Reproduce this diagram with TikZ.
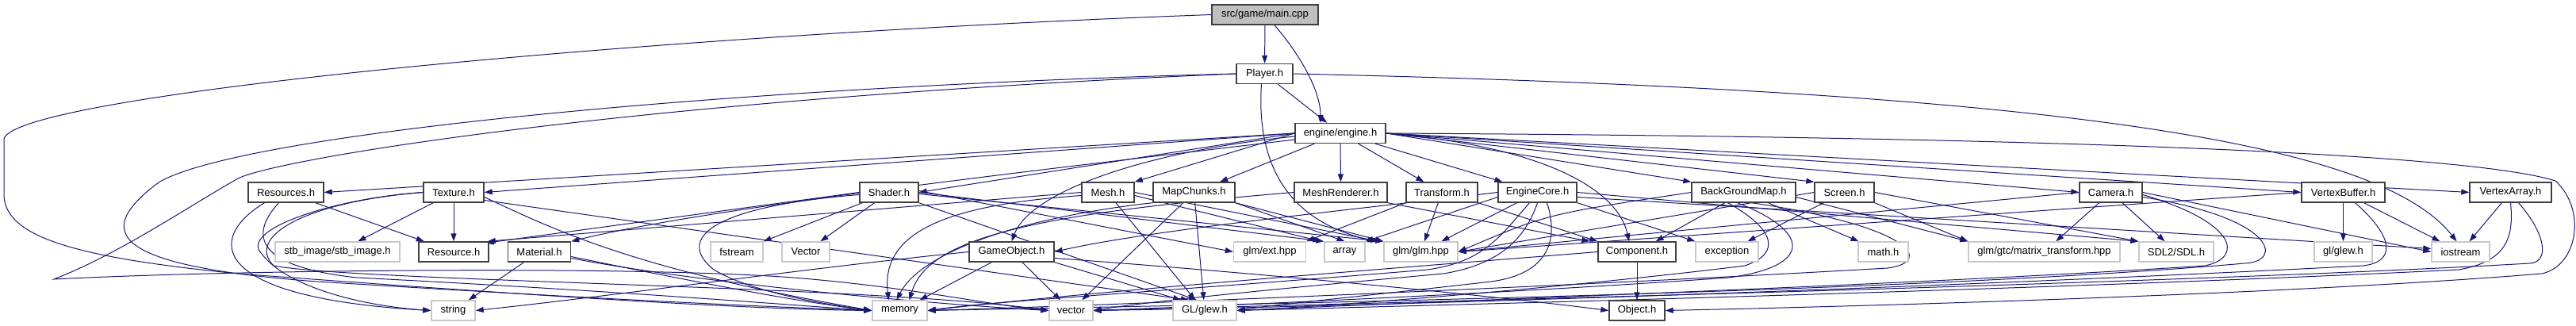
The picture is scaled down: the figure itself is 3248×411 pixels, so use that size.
\documentclass[tikz,border=0pt]{standalone}
\usepackage{fontspec}
\setmainfont{Liberation Sans}
\usetikzlibrary{arrows.meta}
\definecolor{edgec}{HTML}{191970}
\definecolor{hdrb}{HTML}{404040}
\definecolor{sysb}{HTML}{C8C8C8}
\definecolor{mainf}{HTML}{BFBFBF}
\pgfdeclarelayer{bg}
\pgfsetlayers{bg,main}
\newcommand{\dfont}{\fontsize{13}{15}\selectfont}
\tikzset{
  hdr/.style={draw=hdrb, line width=1.4pt, fill=white, minimum height=25pt, inner sep=0pt, font=\dfont},
  sys/.style={draw=sysb, line width=1.4pt, fill=white, minimum height=25pt, inner sep=0pt, font=\dfont},
  e/.style={draw=edgec, line width=1pt, -{Triangle[length=10pt,width=7pt,fill=edgec]}},
}
\begin{document}
\begin{tikzpicture}[x=1pt,y=-1pt]
\useasboundingbox (0,0) rectangle (3248,411);
% row 0-2
\node[hdr, fill=mainf, minimum width=134pt] (maincpp) at (1595,18.5) {src/game/main.cpp};
\node[hdr, minimum width=71pt] (player) at (1594.5,93) {Player.h};
\node[hdr, minimum width=114pt] (engine) at (1690,168) {engine/engine.h};
% row 3
\node[hdr, minimum width=95pt] (resources) at (360.5,242.5) {Resources.h};
\node[hdr, minimum width=76pt] (texture) at (572,242.5) {Texture.h};
\node[hdr, minimum width=74pt] (shader) at (1121,242.5) {Shader.h};
\node[hdr, minimum width=66pt] (mesh) at (1397,242.5) {Mesh.h};
\node[hdr, minimum width=103pt] (mapchunks) at (1505.5,242.5) {MapChunks.h};
\node[hdr, minimum width=117pt] (meshrenderer) at (1690.5,242.5) {MeshRenderer.h};
\node[hdr, minimum width=90pt] (transform) at (1818,242.5) {Transform.h};
\node[hdr, minimum width=99pt] (enginecore) at (1938.5,242.5) {EngineCore.h};
\node[hdr, minimum width=131pt] (bgm) at (2198.5,242.5) {BackGroundMap.h};
\node[hdr, minimum width=75pt] (screen) at (2325.5,242.5) {Screen.h};
\node[hdr, minimum width=79pt] (camera) at (2661.5,242.5) {Camera.h};
\node[hdr, minimum width=105pt] (vbuffer) at (2954.5,242.5) {VertexBuffer.h};
\node[hdr, minimum width=103pt] (varray) at (3165.5,242.5) {VertexArray.h};
% row 4
\node[sys, minimum width=157pt] (stb) at (425.5,317.5) {stb\_image/stb\_image.h};
\node[hdr, minimum width=88pt] (resource) at (572,317.5) {Resource.h};
\node[hdr, minimum width=79pt] (material) at (680,317.5) {Material.h};
\node[sys, minimum width=66pt] (fstream) at (929,317.5) {fstream};
\node[sys, minimum width=60pt] (vectorcap) at (1016,317.5) {Vector};
\node[hdr, minimum width=107pt] (gameobject) at (1275.5,317.5) {GameObject.h};
\node[sys, minimum width=91pt] (glmext) at (1601,317.5) {glm/ext.hpp};
\node[sys, minimum width=51pt] (array) at (1695.5,317.5) {array};
\node[sys, minimum width=93pt] (glmglm) at (1791.5,317.5) {glm/glm.hpp};
\node[hdr, minimum width=98pt] (component) at (2064,317.5) {Component.h};
\node[sys, minimum width=79pt] (exception) at (2177.5,317.5) {exception};
\node[sys, minimum width=63pt] (math) at (2374.5,317.5) {math.h};
\node[sys, minimum width=191pt] (matrix) at (2577.5,317.5) {glm/gtc/matrix\_transform.hpp};
\node[sys, minimum width=94pt] (sdl) at (2744,317.5) {SDL2/SDL.h};
\node[sys, minimum width=73pt] (glglew) at (2954.5,317.5) {gl/glew.h};
\node[sys, minimum width=73pt] (iostream) at (3102.5,317.5) {iostream};
% row 5
\node[sys, minimum width=55pt] (string) at (571.5,391.5) {string};
\node[sys, minimum width=69pt] (memory) at (1134.5,391.5) {memory};
\node[sys, minimum width=55pt] (vector) at (1350.5,391.5) {vector};
\node[sys, minimum width=80pt] (GLglew) at (1519,391.5) {GL/glew.h};
\node[hdr, minimum width=70pt] (object) at (2064,391.5) {Object.h};

\begin{pgfonlayer}{bg}
% main.cpp
\draw[e] (maincpp) -- (player);
\draw[e] ([xshift=12pt]maincpp.south) .. controls (1640,70) and (1665,115) .. ([xshift=-25pt]engine.north);
\draw[e] (maincpp.west) .. controls (800,45) and (20,120) .. (5,175) -- (5,245) .. controls (5,300) and (100,325) .. (300,345) .. controls (700,375) and (950,390) .. (memory.west);
% Player.h
\draw[e] (player) -- (engine);
\draw[e] ([xshift=-4pt]player.south) .. controls (1585,190) and (1610,275) .. ([xshift=-10pt]glmglm.north west);
\draw[e] (player.east) .. controls (2600,115) and (3000,180) .. ([xshift=-5pt]iostream.north);
\draw[e] (player.west) .. controls (900,110) and (300,170) .. (200,230) .. controls (120,290) and (130,335) .. (400,355) .. controls (800,380) and (1000,388) .. (memory.west);
\draw[e] (player.west) .. controls (800,125) and (350,200) .. (300,225) .. controls (230,265) and (150,320) .. (68,352) .. controls (300,340) and (800,335) .. (1000,350) .. controls (1150,362) and (1250,385) .. (vector.west);
% engine.h
\draw[e] (engine.west) -- (resources.east);
\draw[e] (engine.west) -- (texture.east);
\draw[e] (engine.west) -- (shader.east);
\draw[e] (engine.west) -- (mesh.north east);
\draw[e] (engine) -- (mapchunks);
\draw[e] ([yshift=-8pt]engine.west) .. controls (1350,210) and (900,260) .. (material.north east);
\draw[e] ([yshift=-4pt]engine.west) .. controls (1450,190) and (1300,240) .. (gameobject.north);
\draw[e] (engine) -- (meshrenderer);
\draw[e] (engine) -- (transform);
\draw[e] (engine) -- (enginecore);
\draw[e] (engine.east) .. controls (1950,185) and (2040,240) .. ([xshift=-10pt]component.north);
\draw[e] (engine.east) -- (bgm.north west);
\draw[e] (engine.east) -- (screen.north west);
\draw[e] (engine.east) -- (camera.west);
\draw[e] (engine.east) -- (vbuffer.west);
\draw[e] (engine.east) -- (varray.west);
\draw[e] (engine.east) .. controls (2500,172) and (3100,190) .. (3222,228) .. controls (3262,265) and (3250,335) .. (3205,345) .. controls (2900,370) and (2400,385) .. (object.east);
% Resources.h
\draw[e] (resources) -- (resource);
\draw[e] ([xshift=-27pt]resources.south) .. controls (260,300) and (260,375) .. (string.west);
\draw[e] ([xshift=-9pt]resources.south) .. controls (320,290) and (310,335) .. (450,350) .. controls (800,368) and (1000,385) .. (memory.west);
% Texture.h
\draw[e] (texture) -- (stb);
\draw[e] (texture) -- (resource);
\draw[e] (texture.west) .. controls (420,250) and (300,290) .. (330,320) .. controls (360,360) and (450,385) .. (string.west);
\draw[e] (texture.west) .. controls (380,255) and (310,300) .. (345,335) .. controls (450,355) and (1100,360) .. (vector.west);
\draw[e] ([yshift=-6pt]texture.east) .. controls (700,290) and (800,340) .. (memory.west);
\draw[e] ([yshift=-10pt]texture.east) -- ([xshift=-20pt]GLglew.north);
% Material.h
\draw[e] (material) -- (string);
\draw[e] ([yshift=-6pt]material.east) .. controls (850,350) and (1000,380) .. (memory.west);
\draw[e] ([yshift=-8pt]material.east) .. controls (900,360) and (1200,385) .. (vector.west);
% Shader.h
\draw[e] (shader.west) -- ([xshift=-4pt,yshift=-2pt]resource.north east);
\draw[e] (shader) -- (fstream);
\draw[e] (shader) -- (vectorcap);
\draw[e] ([yshift=-3pt]shader.west) .. controls (900,260) and (850,300) .. (900,340) .. controls (950,370) and (1050,385) .. (memory.west);
\draw[e] ([yshift=2pt]shader.east) -- (glmext.west);
\draw[e] (shader.east) -- (array.north west);
\draw[e] ([yshift=-2pt]shader.east) -- (glmglm.north west);
\draw[e] (shader.south east) -- ([xshift=-10pt]GLglew.north);
% Mesh.h
\draw[e] (mesh.west) -- ([xshift=-2pt]resource.north east);
\draw[e] ([yshift=-4pt]mesh.west) .. controls (1200,258) and (1110,290) .. ([xshift=-14pt]memory.north);
\draw[e] ([xshift=10pt]mesh.south) -- ([xshift=-12pt]GLglew.north);
\draw[e] (mesh.east) -- ([xshift=-6pt]glmglm.north west);
\draw[e] ([yshift=-4pt]mesh.east) -- ([xshift=-4pt]array.north west);
% MapChunks.h
\draw[e] (mapchunks) -- (vector);
\draw[e] (mapchunks) -- (GLglew);
\draw[e] (mapchunks.south west) .. controls (1280,275) and (1160,320) .. ([xshift=-4pt]memory.north);
\draw[e] (mapchunks.south east) -- (array.north);
\draw[e] (mapchunks.south east) -- (glmglm.north west);
% MeshRenderer.h
\draw[e] (meshrenderer.west) .. controls (1300,270) and (1170,300) .. ([xshift=12pt]memory.north);
\draw[e] (meshrenderer.south east) -- ([xshift=-10pt]component.north west);
% Transform.h
\draw[e] (transform) -- (glmglm);
\draw[e] (transform.south west) -- (glmext.north east);
\draw[e] (transform.south east) -- (component.north west);
% EngineCore.h
\draw[e] (enginecore.west) .. controls (1700,265) and (1450,290) .. (gameobject.east);
\draw[e] (enginecore) -- (glmglm);
\draw[e] (enginecore.south east) -- (exception.north west);
\draw[e] ([yshift=-6pt]enginecore.west) -- (array.north east);
\draw[e] ([xshift=-10pt]enginecore.south) .. controls (1890,300) and (1870,330) .. (1800,340) .. controls (1500,365) and (1250,380) .. (memory.east);
\draw[e] (enginecore.south) .. controls (1920,310) and (1880,335) .. (1820,345) .. controls (1600,365) and (1450,380) .. (vector.east);
\draw[e] ([xshift=12pt]enginecore.south) .. controls (1965,300) and (1955,345) .. (1880,355) .. controls (1750,370) and (1600,385) .. (GLglew.east);
\draw[e] (enginecore.east) -- (sdl.north west);
\draw[e] ([yshift=-6pt]enginecore.east) -- ([yshift=4pt]iostream.west);
% BackGroundMap.h
\draw[e] (bgm) -- (component);
\draw[e] (bgm) -- (math);
\draw[e] ([yshift=-6pt]bgm.east) -- (matrix.north west);
\draw[e] (bgm.west) .. controls (1950,270) .. (glmglm.east);
\draw[e] ([xshift=-20pt]bgm.south) .. controls (2240,290) and (2245,320) .. (2200,335) .. controls (2000,360) and (1700,385) .. (GLglew.east);
\draw[e] ([xshift=-8pt]bgm.south) .. controls (2280,290) and (2290,335) .. (2180,350) .. controls (1900,370) and (1550,385) .. (vector.east);
\draw[e] ([xshift=10pt]bgm.south) .. controls (2410,285) and (2440,330) .. (2380,338) .. controls (2000,360) and (1400,385) .. (memory.east);
% Screen.h
\draw[e] (screen) -- (exception);
\draw[e] (screen.south east) -- (matrix.north west);
\draw[e] (screen.east) -- (sdl.north west);
\draw[e] (screen.west) -- (glmglm.east);
% Camera.h
\draw[e] (camera) -- (matrix);
\draw[e] (camera) -- (sdl);
\draw[e] (camera.west) -- (glmglm.east);
\draw[e] (camera.east) -- (iostream.west);
\draw[e] ([yshift=-3pt]camera.east) .. controls (2820,280) and (2830,325) .. (2780,335) .. controls (2400,360) and (1800,380) .. (GLglew.east);
\draw[e] ([yshift=-6pt]camera.east) .. controls (2870,275) and (2880,330) .. (2830,332) .. controls (2400,370) and (1500,385) .. (memory.east);
% VertexBuffer.h
\draw[e] (vbuffer) -- (glglew);
\draw[e] (vbuffer) -- (iostream);
\draw[e] (vbuffer.west) -- (glmglm.east);
\draw[e] ([xshift=15pt]vbuffer.south) .. controls (3020,300) and (3020,330) .. (2980,335) .. controls (2500,360) and (1800,385) .. (vector.east);
% VertexArray.h
\draw[e] (varray) -- (iostream);
\draw[e] (varray.south) .. controls (3170,300) and (3160,330) .. (3100,340) .. controls (2600,365) and (1800,385) .. (GLglew.east);
\draw[e] ([xshift=10pt]varray.south) .. controls (3210,295) and (3215,330) .. (3190,332) .. controls (2700,360) and (1600,385) .. (vector.east);
% GameObject.h
\draw[e] (gameobject.west) .. controls (1000,340) and (800,370) .. (string.east);
\draw[e] (gameobject) -- (memory);
\draw[e] (gameobject) -- (vector);
\draw[e] (gameobject.south east) -- ([xshift=-30pt]GLglew.north);
\draw[e] ([yshift=-8pt]gameobject.east) .. controls (1600,345) and (1900,375) .. (object.west);
% Component.h
\draw[e] (component) -- (object);
\draw[e] (component.west) .. controls (1800,335) and (1400,365) .. (memory.east);
\end{pgfonlayer}
\end{tikzpicture}
\end{document}
